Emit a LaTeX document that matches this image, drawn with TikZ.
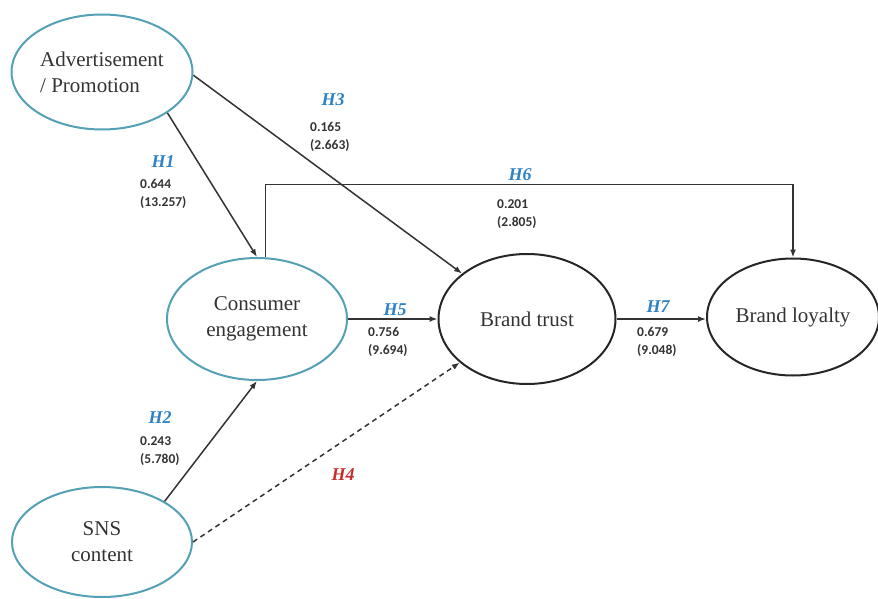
\documentclass[tikz,border=0pt]{standalone}
\usepackage{fontspec}
\setmainfont{Liberation Serif}
\newfontfamily\numfont{Carlito}
\usetikzlibrary{shapes.geometric,arrows.meta}
\definecolor{ringblue}{RGB}{84,160,180}
\definecolor{hypblue}{RGB}{45,130,195}
\definecolor{hypred}{RGB}{200,45,45}

\begin{document}
\begin{tikzpicture}[x=1pt,y=1pt,
    latent/.style={ellipse, draw=ringblue, line width=2pt, inner sep=0pt, align=center, text=black!80, font=\fontsize{21}{26}\selectfont},
    outcome/.style={latent, draw=black!85},
    link/.style={draw=black!80, line width=1.5pt, -{Latex[length=8pt,width=6pt]}},
    hyp/.style={text=hypblue, font=\fontsize{18}{20}\selectfont\bfseries\itshape},
    coef/.style={anchor=west, align=left, inner sep=0pt, text=black!80, font=\numfont\fontsize{13.5}{18}\selectfont\bfseries}]
        \useasboundingbox (0,0) rectangle (878,-599);
        % constructs
        \node[latent, align=left, minimum width=181, minimum height=115] (ad) at (102,-72) {Advertisement\\/ Promotion};
        \node[latent, minimum width=180, minimum height=122] (ce) at (257,-319) {Consumer\\engagement};
        \node[latent, minimum width=180, minimum height=110] (sns) at (102,-542) {SNS\\content};
        \node[outcome, minimum width=177, minimum height=130] (bt) at (527,-319) {Brand trust};
        \node[outcome, minimum width=172, minimum height=117] (bl) at (793,-317) {Brand loyalty};
        % paths
        \draw[link] (ad.-32) -- (ce.north);
        \draw[link] (ad.-2) -- (bt.145);
        \draw[link] (sns.33) -- (ce.south);
        \draw[link, dash pattern=on 5pt off 4pt] (sns.east) -- (bt.213);
        \draw[link] (ce.east) -- (bt.west);
        \draw[link] (bt.east) -- (bt.east -| bl.west);
        \draw[link] (ce.82) -- ++(0,73) -| (bl.north);
        % hypotheses and estimates
        \node[hyp] (h1) at (163,-162) {H1};
        \node[coef] (c1) at (140,-194) {0.644\\(13.257)};
        \node[hyp] (h2) at (160,-418) {H2};
        \node[coef] (c2) at (140,-451) {0.243\\(5.780)};
        \node[hyp] (h3) at (333,-100) {H3};
        \node[coef] (c3) at (310,-137) {0.165\\(2.663)};
        \node[hyp, text=hypred] (h4) at (343,-475) {H4};
        \node[hyp] (h5) at (395,-310) {H5};
        \node[coef] (c5) at (368,-342) {0.756\\(9.694)};
        \node[hyp] (h6) at (520,-175) {H6};
        \node[coef] (c6) at (497,-214) {0.201\\(2.805)};
        \node[hyp] (h7) at (658,-307) {H7};
        \node[coef] (c7) at (637,-342) {0.679\\(9.048)};
\end{tikzpicture}
\end{document}
